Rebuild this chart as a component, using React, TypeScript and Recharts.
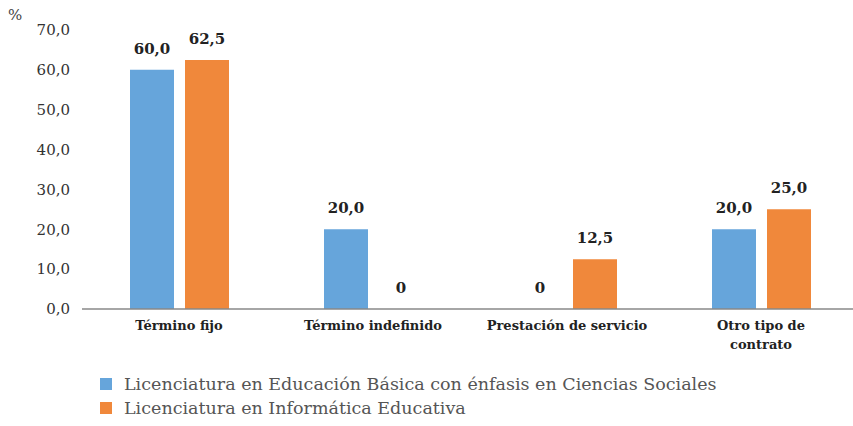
import React from "react";
import { BarChart, Bar, XAxis, YAxis, LabelList } from "recharts";

const categories = [
  "Término fijo",
  "Término indefinido",
  "Prestación de servicio",
  "Otro tipo de\ncontrato",
];
const sociales = [60.0, 20.0, 0, 20.0];
const informatica = [62.5, 0, 12.5, 25.0];
const yTicks = [0, 10, 20, 30, 40, 50, 60, 70];

const seriesNames = {
  sociales: "Licenciatura en Educación Básica con énfasis en Ciencias Sociales",
  informatica: "Licenciatura en Informática Educativa",
};

const BLUE = "#66A5DB";
const ORANGE = "#F0883B";
const SERIF = "'DejaVu Serif', serif";

const data = categories.map((name, i) => ({
  name,
  sociales: sociales[i],
  informatica: informatica[i],
}));

const fmtTick = (v: number) => v.toFixed(1).replace(".", ",");
const fmtValue = (v: number) =>
  v === 0 ? "0" : v.toFixed(1).replace(".", ",");

// zero values still need a (invisible) rect so the "0" label gets drawn
const keepZero = (v: any) => (Number(v) === 0 ? 0.01 : 0);

const CategoryTick = (props: any) => {
  const { x, y, payload } = props;
  const lines = String(payload.value).split("\n");
  return (
    <text
      x={x}
      y={y}
      textAnchor="middle"
      fontFamily={SERIF}
      fontSize={13}
      fontWeight="bold"
      fill="#222"
    >
      {lines.map((l, i) => (
        <tspan key={i} x={x} dy={i === 0 ? 13 : 19}>
          {l}
        </tspan>
      ))}
    </text>
  );
};

const ValueLabel = (props: any) => {
  const { x, y, width, value } = props;
  return (
    <text
      x={Number(x) + Number(width) / 2}
      y={Number(y) - 16}
      textAnchor="middle"
      fontFamily={SERIF}
      fontSize={15}
      fontWeight="bold"
      fill="#222"
    >
      {fmtValue(Number(value))}
    </text>
  );
};

const LegendBox = () => (
  <div
    style={{
      position: "absolute",
      left: 100,
      top: 372,
      fontFamily: SERIF,
      fontSize: 17.5,
      color: "#555",
    }}
  >
    {[
      { c: BLUE, t: seriesNames.sociales },
      { c: ORANGE, t: seriesNames.informatica },
    ].map((it) => (
      <div
        key={it.t}
        style={{ display: "flex", alignItems: "center", height: 24, whiteSpace: "nowrap" }}
      >
        <span
          style={{
            display: "inline-block",
            width: 12,
            height: 12,
            background: it.c,
            marginRight: 12,
          }}
        />
        <span>{it.t}</span>
      </div>
    ))}
  </div>
);

export default function App() {
  return (
    <div style={{ position: "absolute", left: 0, top: 0, width: 853, height: 426 }}>
      <BarChart
        width={853}
        height={426}
        data={data}
        margin={{ top: 30, right: -5, bottom: 0, left: 0 }}
        barGap={11}
        barSize={44}
      >
        <XAxis
          dataKey="name"
          tick={<CategoryTick />}
          tickLine={false}
          axisLine={{ stroke: "#888", strokeWidth: 1.5 }}
          interval={0}
          height={117}
        />
        <YAxis
          domain={[0, 70]}
          ticks={yTicks}
          tickFormatter={fmtTick}
          width={82}
          axisLine={false}
          tickLine={false}
          tickMargin={6}
          tick={{ fontFamily: SERIF, fontSize: 15, fill: "#333" }}
          label={() => (
            <text x={8} y={20} fontFamily={SERIF} fontSize={15} fill="#444">
              %
            </text>
          )}
        />
        <Bar
          dataKey="sociales"
          fill={BLUE}
          minPointSize={keepZero}
          isAnimationActive={false}
        >
          <LabelList dataKey="sociales" content={<ValueLabel />} />
        </Bar>
        <Bar
          dataKey="informatica"
          fill={ORANGE}
          minPointSize={keepZero}
          isAnimationActive={false}
        >
          <LabelList dataKey="informatica" content={<ValueLabel />} />
        </Bar>
      </BarChart>
      <LegendBox />
    </div>
  );
}
